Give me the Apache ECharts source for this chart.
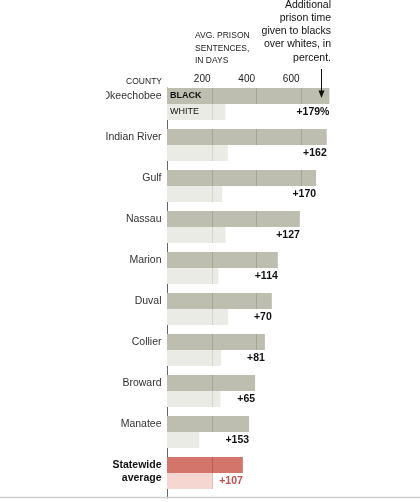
<!DOCTYPE html>
<html>
<head>
<meta charset="utf-8">
<script src="https://cdn.jsdelivr.net/npm/echarts@6/dist/echarts.min.js"></script>
<style>
html,body{margin:0;padding:0;background:#fff;}
#chart{width:420px;height:502px;}
</style>
</head>
<body>
<div id="chart"></div>
<script>
const counties = ['Okeechobee','Indian River','Gulf','Nassau','Marion','Duval','Collier','Broward','Manatee','Statewide\naverage'];
const blackDays = [730, 718, 670, 597, 498, 471, 440, 396, 369, 341];
const whiteDays = [262, 273, 248, 263, 231, 275, 243, 240, 145, 203];
const extraPct = [179, 162, 170, 127, 114, 70, 81, 65, 153, 107];
const tickLabels = [200, 400, 600];
const gridTicks = [200, 400, 600, 800];

const FONT = "'Liberation Sans', Arial, Helvetica, sans-serif";
const data = counties.map((c, i) => [i, blackDays[i], whiteDays[i], extraPct[i]]);

function renderItem(params, api) {
  const i = api.value(0);
  const b = api.value(1), w = api.value(2), p = api.value(3);
  const base = api.coord([0, i]);
  const band = api.size([0, 1])[1];
  const top = base[1] - band / 2;
  const bh = 16;
  const x0 = base[0];
  const xb = api.coord([b, i])[0];
  const xw = api.coord([w, i])[0];
  const isAvg = i === counties.length - 1;
  const cB = isAvg ? '#d4756c' : '#bdbdb0';
  const cW = isAvg ? '#f5d6d1' : '#ebebe5';
  const gB = isAvg ? '#b65e56' : '#a4a497';
  const gW = isAvg ? '#e6bcb6' : '#d5d5cc';
  const children = [
    {type: 'rect', shape: {x: x0, y: top, width: xb - x0, height: bh}, style: {fill: cB}},
    {type: 'rect', shape: {x: x0, y: top + bh, width: xw - x0, height: bh}, style: {fill: cW}}
  ];
  gridTicks.forEach(t => {
    const xt = Math.round(api.coord([t, i])[0]) + 0.5;
    if (t < b) children.push({type: 'line', shape: {x1: xt, y1: top, x2: xt, y2: top + bh}, style: {stroke: gB, lineWidth: 1}});
    if (t < w) children.push({type: 'line', shape: {x1: xt, y1: top + bh, x2: xt, y2: top + 2 * bh}, style: {stroke: gW, lineWidth: 1}});
  });
  // county label
  const label = {
    type: 'text',
    style: {
      x: x0 - 5.5, y: isAvg ? top + 14.5 : top + 8,
      text: counties[i],
      align: 'right', verticalAlign: 'middle',
      font: (isAvg ? 'bold ' : '') + '10.5px ' + FONT,
      lineHeight: 13.3,
      fill: isAvg ? '#111' : '#333'
    }
  };
  if (i === 0) {
    label.clipPath = {type: 'rect', shape: {x: 106, y: top - 5, width: x0 - 106, height: 30}};
  }
  children.push(label);
  // percent label
  children.push({
    type: 'text',
    style: {
      x: xb, y: top + bh + 8,
      text: '+' + p + (i === 0 ? '%' : ''),
      align: 'right', verticalAlign: 'middle',
      font: 'bold 10.5px ' + FONT,
      fill: isAvg ? '#c0504d' : '#111'
    }
  });
  if (i === 0) {
    children.push({type: 'text', style: {x: x0 + 3, y: top + 8, text: 'BLACK', align: 'left', verticalAlign: 'middle', font: 'bold 9px ' + FONT, fill: '#111'}});
    children.push({type: 'text', style: {x: x0 + 3, y: top + bh + 8, text: 'WHITE', align: 'left', verticalAlign: 'middle', font: '9px ' + FONT, fill: '#111'}});
  }
  return {type: 'group', children: children};
}

const chart = echarts.init(document.getElementById('chart'), null, {renderer: 'canvas'});
chart.setOption({
  backgroundColor: '#fff',
  animation: false,
  grid: {left: 167, top: 88, right: 30.5, height: 410},
  xAxis: {
    type: 'value', position: 'top', min: 0, max: 1000, interval: 200,
    axisLine: {show: false}, axisTick: {show: false}, splitLine: {show: false},
    axisLabel: {
      margin: 4, align: 'right', padding: [0, 1, 0, 0],
      fontFamily: FONT, fontSize: 10, color: '#222',
      formatter: v => tickLabels.indexOf(v) >= 0 ? String(v) : ''
    }
  },
  yAxis: {
    type: 'category', data: counties, inverse: true,
    axisLabel: {show: false}, axisTick: {show: false},
    axisLine: {show: true, lineStyle: {color: '#666', width: 1}}
  },
  series: [{
    type: 'custom',
    renderItem: renderItem,
    encode: {y: 0, x: [1, 2]},
    data: data,
    clip: false
  }],
  graphic: [
    {type: 'text', z: 100, left: 195, top: 30, style: {text: 'AVG. PRISON\nSENTENCES,\nIN DAYS', font: '8.5px ' + FONT, lineHeight: 12.3, fill: '#222'}},
    {type: 'text', z: 100, x: 162, y: 82, style: {text: 'COUNTY', align: 'right', verticalAlign: 'middle', font: '8.5px ' + FONT, fill: '#222'}},
    {type: 'text', z: 100, x: 331, y: -1.6, style: {text: 'Additional\nprison time\ngiven to blacks\nover whites, in\npercent.', align: 'right', verticalAlign: 'top', font: '10.5px ' + FONT, lineHeight: 13.2, fill: '#111'}},
    {type: 'line', z: 100, shape: {x1: 321.5, y1: 69, x2: 321.5, y2: 92}, style: {stroke: '#111', lineWidth: 1}},
    {type: 'polygon', z: 100, shape: {points: [[318.5, 90.5], [324.5, 90.5], [321.5, 98]]}, style: {fill: '#111'}},
    {type: 'line', z: 100, shape: {x1: 0, y1: 497.5, x2: 420, y2: 497.5}, style: {stroke: '#cfcfcf', lineWidth: 1.5}}
  ]
});
</script>
</body>
</html>
